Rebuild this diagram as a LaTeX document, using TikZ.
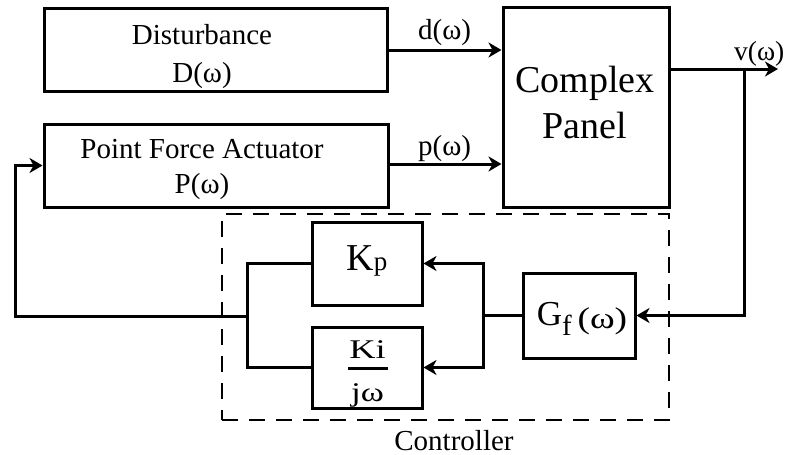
\documentclass[tikz,border=0pt]{standalone}
\usepackage{fontspec}
\usepackage{graphicx}
\setmainfont{Liberation Serif}
\usetikzlibrary{arrows.meta}
\begin{document}
\begin{tikzpicture}[x=1pt,y=-1pt,
  blk/.style={draw, line width=3pt, inner sep=0pt},
  ctrlbox/.style={draw, line width=1.6pt, dash pattern=on 16pt off 11pt, inner sep=0pt},
  txt/.style={inner sep=0pt, anchor=base, font=\fontsize{29}{34}\selectfont},
  conn/.style={line width=3pt},
  arr/.style={line width=3pt, -{Stealth[length=13pt,width=15pt,inset=4pt]}},
  arrb/.style={line width=3pt, {Stealth[length=13pt,width=15pt,inset=4pt]}-{Stealth[length=13pt,width=15pt,inset=4pt]}}
]
\useasboundingbox (0,0) rectangle (788,455);

% controller frame
\node[ctrlbox, minimum width=447pt, minimum height=206pt] (ctrl) at (445.5,317) {};
\node[txt] (ctrlt) at (454,450) {Controller};

% blocks
\node[blk, minimum width=343pt, minimum height=83pt] (dist) at (216,49.5) {};
\node[txt] (distA) at (202,45) {Disturbance};
\node[txt] (distB) at (202,82) {D(ω)};

\node[blk, minimum width=344pt, minimum height=83pt] (pfa) at (216,165.5) {};
\node[txt] (pfaA) at (202,158) {Point Force Actuator};
\node[txt] (pfaB) at (202,193) {P(ω)};

\node[blk, minimum width=166pt, minimum height=200pt] (panel) at (586,107) {};
\node[txt, font=\fontsize{38}{44}\selectfont] (panA) at (585,92) {Complex};
\node[txt, font=\fontsize{38}{44}\selectfont] (panB) at (585,138) {Panel};

\node[blk, minimum width=110pt, minimum height=83pt] (kp) at (367,263.5) {};
\node[txt] (kpt) at (367,270) {\fontsize{38}{40}\selectfont K\fontsize{27}{30}\selectfont p};

\node[blk, minimum width=110pt, minimum height=81pt] (ki) at (367,367.5) {};
\node[txt] (kin) at (367.5,358) {\fontsize{27}{30}\selectfont\scalebox{1.35}[1]{Ki}};
\node[txt] (kid) at (367.5,401) {\fontsize{27}{30}\selectfont\scalebox{1.3}[1]{jω}};
\draw[line width=3.5pt] (348,368.5) -- (388,368.5);

\node[blk, minimum width=112pt, minimum height=85pt] (gf) at (579,315.5) {};
\node[txt] (gft) at (582,325) {\fontsize{35}{40}\selectfont G\raisebox{-10pt}{\fontsize{29}{30}\selectfont f}\,\raisebox{-3pt}{\fontsize{30}{30}\selectfont\scalebox{1.25}[1]{(ω)}}};

% signal labels
\node[txt, anchor=base west] (dlab) at (418,39) {d(ω)};
\node[txt, anchor=base west] (plab) at (418,155) {p(ω)};
\node[txt, anchor=base west, font=\fontsize{27.5}{32}\selectfont] (vlab) at (734,60) {v(ω)};

% coordinates
\coordinate (vout) at (778,69);
\coordinate (br) at (744,69);
\coordinate (jR) at (483,315.5);
\coordinate (jL) at (247,316);
\coordinate (fb) at (15,316);

% connectors
\draw[arr] (dist.east |- 0,50) -- (panel.west |- 0,50);
\draw[arr] (pfa.east |- 0,164) -- (panel.west |- 0,164);
\draw[arr] (panel.east |- vout) -- (vout);
\draw[arr] (br) -- (br |- gf.east) -- (gf.east);
\draw[conn] (gf.west) -- (jR);
\draw[arrb] (kp.east) -- (kp.east -| jR) -- (ki.east -| jR) -- (ki.east);
\draw[conn] (kp.west) -- (kp.west -| jL) -- (ki.west -| jL) -- (ki.west);
\draw[arr] (jL) -- (fb) |- (pfa.west);
\end{tikzpicture}
\end{document}
